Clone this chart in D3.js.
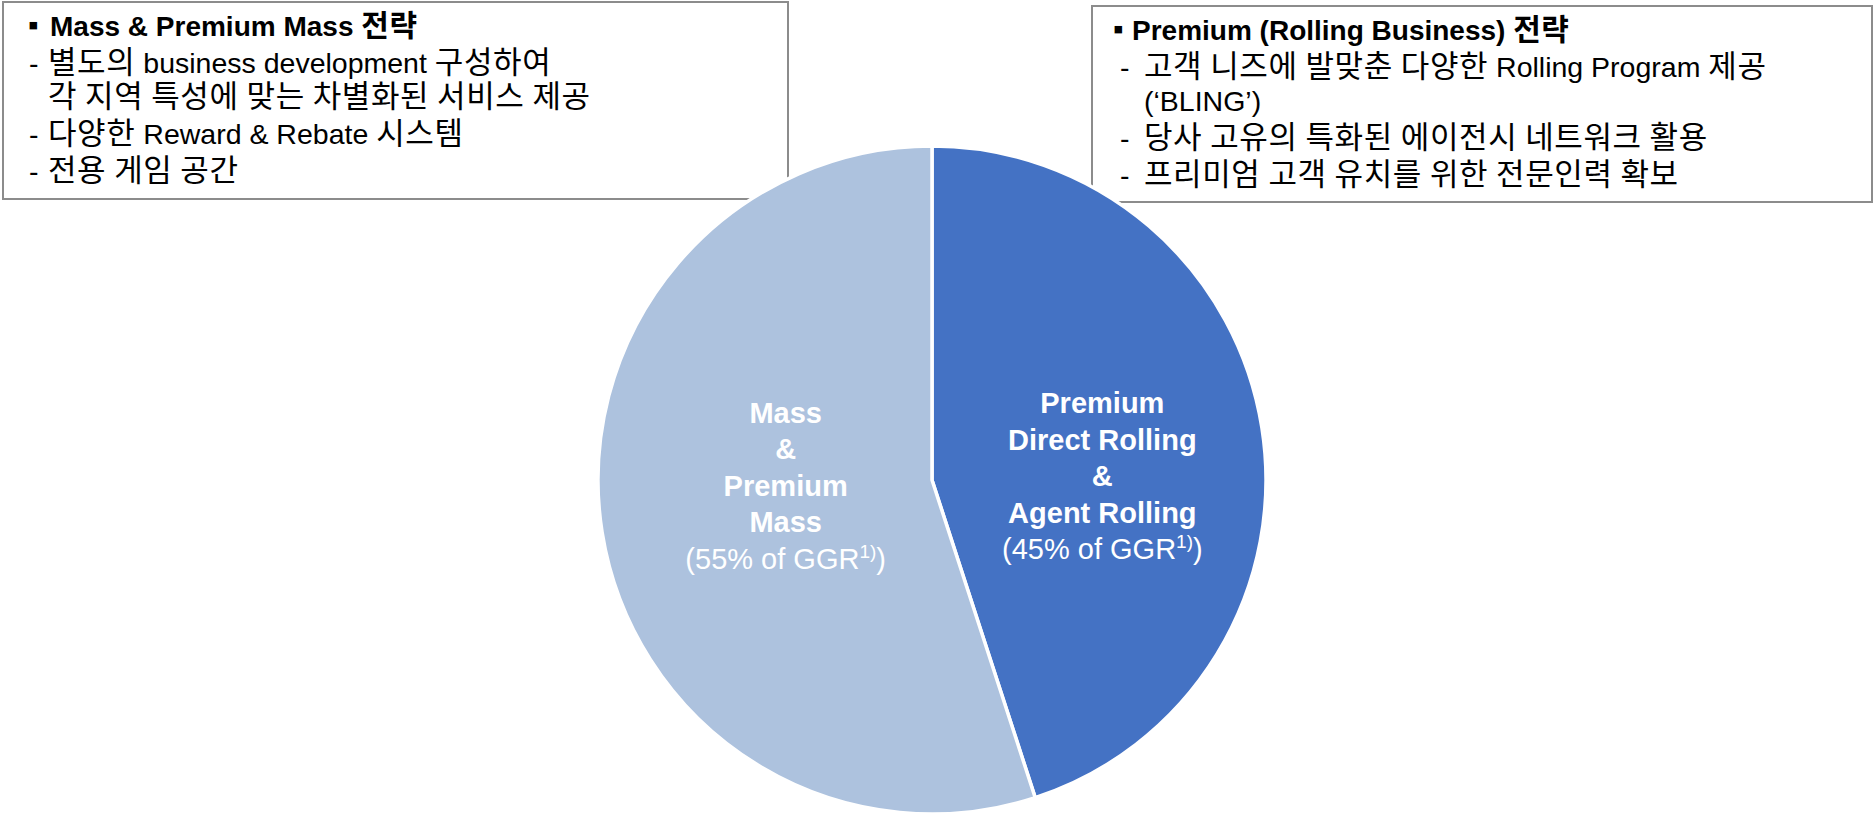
<!DOCTYPE html>
<html>
<head>
<meta charset="utf-8">
<script src="https://cdn.jsdelivr.net/npm/d3@7"></script>
<style>
  body { margin: 0; background: #fff; }
  text { font-family: "Liberation Sans", Arial, "Noto Sans CJK KR", sans-serif; }
</style>
</head>
<body>
<svg class="svgPie"></svg>
<script>
// Slices, clockwise from 12 o'clock.
var categories = ["Premium Direct Rolling & Agent Rolling", "Mass & Premium Mass"];
var shares = [45, 55];
var sliceColors = ["#4472C4", "#ADC2DE"];

// Label lines inside each slice, last line is the share.
var premiumLabel = ["Premium", "Direct Rolling", "&", "Agent Rolling"];
var massLabel = ["Mass", "&", "Premium", "Mass"];
var labelLines = [premiumLabel, massLabel];

// Text of the two strategy boxes.
var massBoxTitle = "Mass & Premium Mass 전략";
var massBoxItems = [
    ["별도의 business development 구성하여", "각 지역 특성에 맞는 차별화된 서비스 제공"],
    ["다양한 Reward & Rebate 시스템"],
    ["전용 게임 공간"]
];
var premiumBoxTitle = "Premium (Rolling Business) 전략";
var premiumBoxItems = [
    ["고객 니즈에 발맞춘 다양한 Rolling Program 제공", "(‘BLING’)"],
    ["당사 고유의 특화된 에이전시 네트워크 활용"],
    ["프리미엄 고객 유치를 위한 전문인력 확보"]
];

var width = 1873,
    height = 818;

var svg = d3.select(".svgPie")
    .attr("width", width)
    .attr("height", height);

// Box outlines go first, the pie covers their inner corners.
var boxes = [
    { x: 3, y: 2, w: 785, h: 197, title: massBoxTitle, items: massBoxItems,
      bullet: 25, titleX: 47, dash: 26, textX: 45 },
    { x: 1092, y: 6, w: 780, h: 196, title: premiumBoxTitle, items: premiumBoxItems,
      bullet: 21, titleX: 40, dash: 28, textX: 52 }
];

svg.selectAll(".box")
    .data(boxes)
    .enter()
    .append("rect")
    .attr("class", "box")
    .attr("x", function (d) { return d.x; })
    .attr("y", function (d) { return d.y; })
    .attr("width", function (d) { return d.w; })
    .attr("height", function (d) { return d.h; })
    .style("fill", "none")
    .style("stroke", "#8c8c8c")
    .style("stroke-width", 2);

// Pie.
var cx = 932,
    cy = 480,
    radius = 334;

var pie = d3.pie()
    .sort(null)
    .value(function (d) { return d; });

var arc = d3.arc()
    .innerRadius(0)
    .outerRadius(radius);

var labelArc = d3.arc()
    .innerRadius(radius * 0.48)
    .outerRadius(radius * 0.48);

var gPie = svg.append("g")
    .attr("transform", "translate(" + cx + "," + cy + ")");

var slices = pie(shares);

gPie.selectAll(".slice")
    .data(slices)
    .enter()
    .append("path")
    .attr("class", "slice")
    .attr("d", arc)
    .style("fill", function (d, i) { return sliceColors[i]; })
    .style("stroke", "#fff")
    .style("stroke-width", 3.5)
    .style("stroke-linejoin", "miter");

// Slice labels, x from the centroid, block roughly centred on the pie.
var lineStep = 36.5;
slices.forEach(function (d, i) {
    var c = labelArc.centroid(d);
    var lines = labelLines[i];
    var n = lines.length + 1;
    var midY = 11 + 0.19 * c[1];
    var firstY = midY - (n - 1) * lineStep / 2;
    var t = gPie.append("text")
        .attr("text-anchor", "middle")
        .style("fill", "#fff")
        .style("font-size", "29px");
    lines.forEach(function (line, j) {
        t.append("tspan")
            .attr("x", c[0] + 12)
            .attr("y", firstY + j * lineStep)
            .style("font-weight", "bold")
            .text(line);
    });
    var last = t.append("tspan")
        .attr("x", c[0] + 12)
        .attr("y", firstY + lines.length * lineStep);
    last.append("tspan").text("(" + shares[i] + "% of GGR");
    last.append("tspan").attr("dy", -11).style("font-size", "19px").text("1)");
    last.append("tspan").attr("dy", 11).text(")");
});

// Hangul is set a bit larger than the latin text, as in the source slide.
function addRuns(sel, str, latinSize, hangulSize) {
    str.split(/([\u1100-\u11FF\u3130-\u318F\uAC00-\uD7AF]+)/).forEach(function (part) {
        if (!part) return;
        var isHangul = /[\uAC00-\uD7AF]/.test(part);
        sel.append("tspan")
            .style("font-size", (isHangul ? hangulSize : latinSize) + "px")
            .style("letter-spacing", isHangul ? "0.6px" : null)
            .text(part);
    });
}

// Box text on top.
boxes.forEach(function (b) {
    var y = b.y + 34;
    svg.append("text")
        .attr("x", b.x + b.bullet)
        .attr("y", y - 1)
        .style("font-size", "30px")
        .style("fill", "#000")
        .text("▪");
    var title = svg.append("text")
        .attr("x", b.x + b.titleX)
        .attr("y", y)
        .style("font-weight", "bold")
        .style("fill", "#000");
    addRuns(title, b.title, 28, 30);
    b.items.forEach(function (item) {
        item.forEach(function (line, k) {
            y += k === 0 ? 37 : 34;
            if (k === 0) {
                svg.append("text")
                    .attr("x", b.x + b.dash)
                    .attr("y", y)
                    .style("font-size", "28.5px")
                    .style("fill", "#000")
                    .text("-");
            }
            var t = svg.append("text")
                .attr("x", b.x + b.textX)
                .attr("y", y)
                .style("fill", "#000");
            addRuns(t, line, 28.5, 31);
        });
    });
});
</script>
</body>
</html>
